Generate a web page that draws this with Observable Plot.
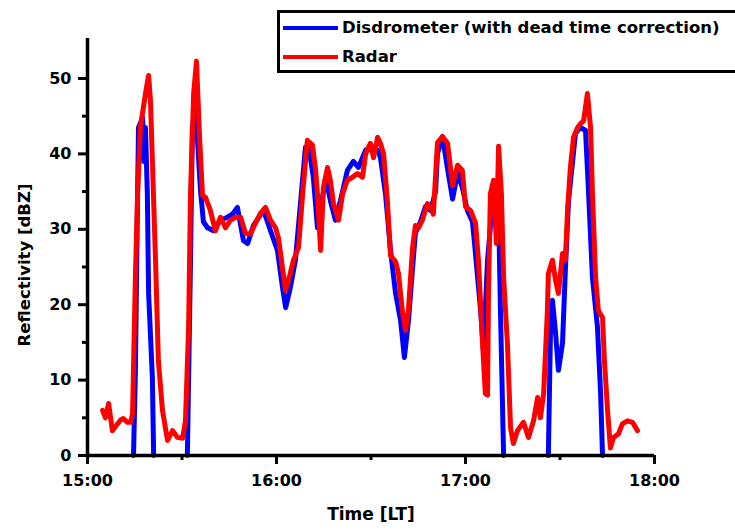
<!DOCTYPE html>
<html><head><meta charset="utf-8">
<script src="https://cdn.jsdelivr.net/npm/d3@7"></script>
<script src="https://cdn.jsdelivr.net/npm/@observablehq/plot@0.6"></script>
<style>
body{margin:0;background:#fff;}
#wrap{position:relative;width:735px;height:532px;overflow:hidden;font-family:"DejaVu Sans",sans-serif;font-weight:bold;}
#legend{position:absolute;left:277px;top:10px;width:470px;height:57px;border:3px solid #000;background:#fff;}
.row{position:absolute;left:3px;display:flex;align-items:center;font-size:16.5px;line-height:20px;height:20px;color:#000;white-space:nowrap;}
.sw{width:55px;height:4px;margin-right:4px;flex:none;}
svg{position:absolute;left:0;top:0;}
</style></head><body>
<div id="wrap"></div>
<script>
// Time in minutes after 15:00 (local time) and reflectivity in dBZ
const radarMinutes = [4.8,5.7,6.7,7.9,9.2,10.5,11.4,12.7,13.7,14.3,15.2,15.9,16.8,18.4,19.4,20.0,20.6,21.6,22.5,23.8,25.4,27.0,28.6,30.2,31.1,32.1,32.7,33.7,34.6,35.6,36.5,37.5,39.0,40.6,42.2,43.8,45.4,47.0,48.6,50.2,51.7,53.3,54.9,56.5,58.1,59.7,60.6,61.9,62.9,63.8,65.4,67.0,68.3,69.8,71.4,72.4,73.0,74.0,74.9,76.2,77.1,78.1,79.7,81.0,82.5,84.1,85.7,87.3,88.3,89.8,90.8,92.1,93.0,94.0,95.2,96.2,97.8,98.7,100.0,101.0,101.9,103.2,104.1,105.1,106.3,107.9,108.9,109.8,111.1,112.7,114.3,115.9,117.5,119.0,120.0,121.6,123.2,124.1,125.4,126.3,127.0,127.3,127.9,128.9,129.8,130.5,131.4,132.1,133.3,134.3,135.2,136.5,138.4,140.0,141.6,142.9,143.8,144.8,146.0,146.3,147.6,148.6,149.5,150.8,151.7,152.4,153.3,154.3,155.6,156.5,157.5,158.7,159.7,160.3,161.3,162.2,163.5,164.1,165.1,166.0,167.0,168.6,169.8,171.4,173.0,174.6];
const radarDbz = [6.0,5.0,6.9,3.3,4.0,4.7,4.9,4.4,4.4,5.5,23.6,34.7,43.5,48.0,50.4,47.0,39.0,25.9,12.6,6.0,2.0,3.3,2.4,2.3,4.6,17.0,34.7,48.0,52.3,42.0,34.5,34.2,32.5,29.8,31.6,30.2,31.2,31.6,31.6,29.4,29.4,30.8,32.1,32.9,31.2,30.2,28.9,24.9,21.9,23.2,25.9,27.6,34.7,41.8,41.2,38.0,34.7,27.2,35.5,38.2,36.5,33.4,31.2,34.7,36.5,36.9,37.4,36.9,40.0,41.4,39.5,42.2,41.4,40.0,33.8,26.5,25.7,24.2,19.0,16.6,19.4,27.6,30.5,30.2,31.2,33.4,32.9,32.0,41.5,42.3,41.4,35.8,38.5,37.8,33.0,32.5,30.8,25.9,14.9,8.2,8.0,21.5,34.7,36.5,28.1,41.0,34.7,23.6,14.9,3.7,1.6,3.3,4.4,2.4,4.6,7.7,5.0,8.2,19.2,24.1,25.9,23.2,21.5,26.8,25.9,32.5,38.2,42.2,43.5,44.0,44.4,48.0,43.5,34.7,23.6,19.2,18.3,12.6,6.0,1.0,2.4,2.9,4.2,4.6,4.4,3.3];

// Disdrometer: null separates segments with no reflectivity
const disdroMinutes = [14.6,15.2,15.9,16.2,17.5,17.8,18.4,19.0,19.4,20.6,21.0,21.5,31.7,32.1,32.7,33.3,34.3,34.9,35.9,36.8,38.1,40.0,42.2,44.4,46.0,47.6,49.5,50.8,52.7,54.3,55.9,58.1,60.3,61.9,62.9,64.4,66.0,67.6,69.2,70.2,71.7,73.0,74.0,75.6,77.1,78.7,80.3,82.5,84.4,86.0,88.3,90.5,92.1,93.0,94.6,96.2,97.8,99.4,100.6,101.9,103.2,104.1,105.7,107.3,108.9,110.5,111.1,112.7,114.3,115.9,117.5,119.0,120.6,122.2,122.9,124.8,125.7,127.0,128.6,130.2,130.5,131.1,132.1,140.0,146.3,147.0,147.6,148.6,149.5,150.8,151.7,152.7,154.0,154.9,156.5,158.1,159.0,160.3,161.9,162.9,163.5];
const disdroDbz = [0,11.0,34.7,43.5,44.8,39.0,43.5,34.7,21.5,10.3,0,null,0,10.3,25.9,43.5,45.8,42.0,35.0,31.0,30.2,29.8,31.2,31.6,32.0,32.9,28.5,28.1,30.5,31.5,32.5,29.8,27.2,22.3,19.6,22.3,25.9,33.4,40.9,41.0,36.9,30.2,32.5,36.9,33.8,31.2,33.8,37.8,39.0,38.2,40.5,40.9,40.5,39.5,34.7,27.2,21.5,17.9,13.0,17.9,24.9,29.5,31.0,33.0,32.5,35.0,40.0,42.3,38.0,34.0,37.5,35.5,32.5,31.0,28.0,19.2,13.9,25.9,33.8,36.0,32.5,19.2,0,null,0,17.0,20.6,16.2,11.3,14.9,24.5,33.8,39.0,42.7,43.5,43.1,35.5,23.6,17.0,8.2,0];

const yMajorTicks = [0,10,20,30,40,50];
const yMinorTicks = [5,15,25,35,45];
const xMajorTickLabels = ["15:00","16:00","17:00","18:00"];
const xMinorTickLabels = ["15:30","16:30","17:30"];
const seriesNames = ["Disdrometer (with dead time correction)","Radar"];
const seriesColors = ["#0000ff","#ff0000"];
const xTitle = "Time [LT]";
const yTitle = "Reflectivity [dBZ]";

const base = Date.UTC(2000,0,1,15,0);
const toDate = m => new Date(base + m*60000);
const parseHM = s => { const [h,mm] = s.split(":").map(Number); return toDate((h-15)*60+mm); };

const radar = radarMinutes.map((m,i)=>({time:toDate(m), dbz:radarDbz[i]}));
const disdro = disdroMinutes.map((m,i)=>({time:toDate(m), dbz:disdroDbz[i]}));

const font = '"DejaVu Sans",sans-serif';
const chart = Plot.plot({
  width:735, height:532,
  marginLeft:87, marginRight:81, marginTop:38, marginBottom:77,
  style:{fontFamily:font, fontWeight:"bold", fontSize:"16px", color:"#000", background:"transparent", overflow:"visible"},
  x:{type:"utc", domain:[parseHM("15:00"), parseHM("18:00")]},
  y:{domain:[0,55.3]},
  marks:[
    Plot.line(disdro, {x:"time", y:"dbz", stroke:seriesColors[0], strokeWidth:5}),
    Plot.line(radar, {x:"time", y:"dbz", stroke:seriesColors[1], strokeWidth:5}),
    Plot.axisX({ticks:xMajorTickLabels.map(parseHM), tickFormat:d3.utcFormat("%H:%M"), tickSize:9, tickPadding:10, strokeWidth:3, fontSize:16, label:null}),
    Plot.axisX({ticks:xMinorTickLabels.map(parseHM), tickSize:5, strokeWidth:3, tickFormat:()=>"", label:null}),
    Plot.axisY({ticks:yMajorTicks, tickSize:9, tickPadding:7, strokeWidth:3, fontSize:16, label:null}),
    Plot.axisY({ticks:yMinorTicks, tickSize:5, strokeWidth:3, tickFormat:()=>"", label:null}),
    Plot.ruleX([parseHM("15:00")], {stroke:"#000", strokeWidth:3.5}),
    Plot.ruleY([0], {stroke:"#000", strokeWidth:3.5}),
    Plot.text([xTitle], {frameAnchor:"bottom", dy:64, fontSize:17, fontWeight:"bold"}),
    Plot.text([yTitle], {frameAnchor:"left", textAnchor:"middle", dx:-63, dy:18, rotate:-90, fontSize:16.5, fontWeight:"bold"})
  ]
});
const wrap = document.getElementById("wrap");
wrap.appendChild(chart);

const legend = document.createElement("div");
legend.id = "legend";
seriesNames.forEach((name,i)=>{
  const row = document.createElement("div");
  row.className = "row";
  row.style.top = (i===0 ? 5 : 34) + "px";
  const sw = document.createElement("div");
  sw.className = "sw";
  sw.style.background = seriesColors[i];
  const tx = document.createElement("span");
  tx.textContent = name;
  row.appendChild(sw); row.appendChild(tx);
  legend.appendChild(row);
});
wrap.appendChild(legend);
</script>
</body></html>
